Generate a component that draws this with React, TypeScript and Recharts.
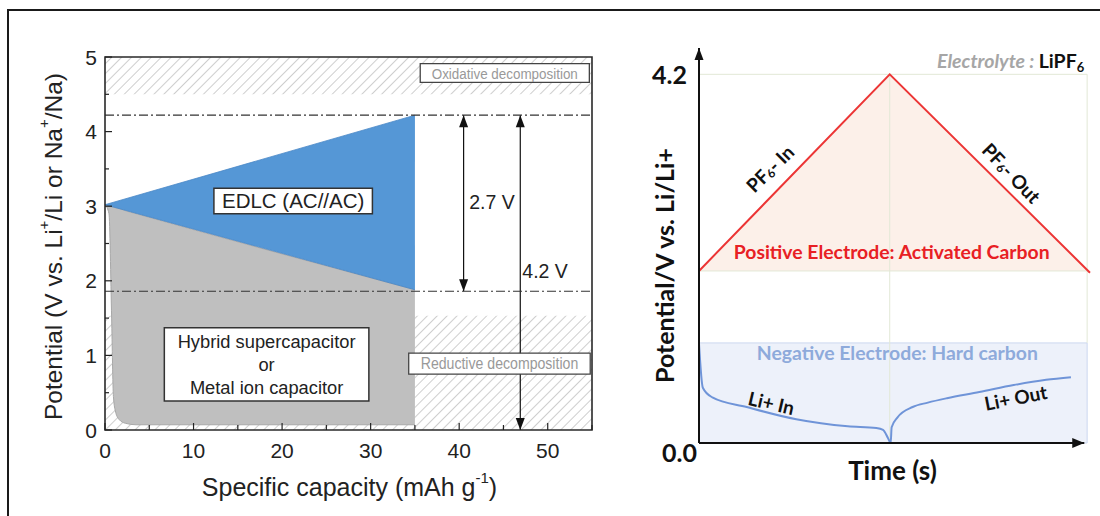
import {
  Area,
  ComposedChart,
  Line,
  ReferenceArea,
  ReferenceDot,
  ReferenceLine,
  XAxis,
  YAxis,
} from 'recharts'

const arial = '"Liberation Sans", Arial, sans-serif'
const calibri = 'Lato, "Open Sans", sans-serif'
const ink = '#222'

// ---- left panel: stability windows vs specific capacity ----
const capacityTicks = [0, 5, 10, 15, 20, 25, 30, 35, 40, 45, 50, 55]
const potentialTicks = [0, 0.5, 1, 1.5, 2, 2.5, 3, 3.5, 4, 4.5, 5]

const oxidativeZone = [
  { x: 0, v: 5 },
  { x: 55, v: 5 },
]
const reductiveZone = [
  { x: 0, v: 1.53 },
  { x: 55, v: 1.53 },
]

// [lower, upper] potential at each capacity
const edlcWindow = [
  { x: 0, v: [3.02, 3.02] },
  { x: 35, v: [1.88, 4.22] },
]
const hybridWindow = [
  { x: 0, v: [3.02, 3.02] },
  { x: 0.45, v: [2.9, 3.0] },
  { x: 0.75, v: [1.5, 2.99] },
  { x: 0.95, v: [0.45, 2.99] },
  { x: 1.2, v: [0.24, 2.98] },
  { x: 1.6, v: [0.14, 2.97] },
  { x: 2.3, v: [0.09, 2.94] },
  { x: 3.5, v: [0.07, 2.9] },
  { x: 35, v: [0.07, 1.88] },
]
const cutoffs = [4.22, 1.86]
const edlcSpan = [
  { x: 40.5, v: 1.86 },
  { x: 40.5, v: 4.22 },
]
const hybridSpan = [
  { x: 46.9, v: 0 },
  { x: 46.9, v: 4.22 },
]

// ---- right panel: electrode potentials vs time ----
const cellTicks = [0, 4.2]
const positiveCurve = [
  { t: 0, v: 1.96 },
  { t: 1, v: 4.2 },
  { t: 2.05, v: 1.94 },
]
const negT = [0, 0.02, 0.07, 0.25, 0.51, 0.78, 0.93, 0.965, 0.99, 1.005, 1.01, 1.04, 1.12, 1.2, 1.3, 1.47, 1.65, 1.82, 1.95]
const negV = [1.13, 0.63, 0.52, 0.41, 0.27, 0.19, 0.17, 0.15, 0.06, 0.0, 0.18, 0.29, 0.41, 0.46, 0.51, 0.58, 0.66, 0.72, 0.75]
const negativeCurve = negT.map((t, i) => ({ t, v: negV[i] }))
const potentialArrow = [
  { t: 0, v: 0 },
  { t: 0, v: 4.5 },
]
const timeArrow = [
  { t: 0, v: 0 },
  { t: 2.02, v: 0 },
]

function arrowDot(ends: 'both' | 'last', dir: 'v' | 'h') {
  return (p: any) => {
    const { cx, cy, index } = p
    if (ends === 'last' && index === 0) return <g key={index} />
    const s = index === 0 ? 1 : -1
    const pts =
      dir === 'h'
        ? `${cx},${cy} ${cx - 12},${cy - 5} ${cx - 12},${cy + 5}`
        : `${cx},${cy} ${cx - 4.5},${cy - s * 12} ${cx + 4.5},${cy - s * 12}`
    return <polygon key={index} points={pts} fill="#111" />
  }
}

function note(key: string, x: number, y: number, content: React.ReactNode) {
  return (
    <ReferenceDot
      key={key}
      x={x}
      y={y}
      r={0}
      ifOverflow="visible"
      zIndex={2000}
      shape={(p: any) => <g transform={`translate(${p.cx},${p.cy})`}>{content}</g>}
    />
  )
}

function PotentialTick(p: any) {
  const { x, y, payload } = p
  const major = Number.isInteger(payload.value)
  return (
    <g>
      <line x1={x} x2={x + (major ? 7 : 4)} y1={y} y2={y} stroke={ink} strokeWidth={1.2} />
      {major && (
        <text x={x - 8} y={y} textAnchor="end" dominantBaseline="central" fontSize={21} fill={ink}>
          {payload.value}
        </text>
      )}
    </g>
  )
}

function CapacityTick(p: any) {
  const { x, y, payload } = p
  const major = payload.value % 10 === 0
  return (
    <g>
      <line x1={x} x2={x} y1={y} y2={y - (major ? 7 : 5)} stroke={ink} strokeWidth={1.2} />
      {major && (
        <text x={x} y={y + 20} textAnchor="middle" dominantBaseline="central" fontSize={21} fill={ink}>
          {payload.value}
        </text>
      )}
    </g>
  )
}

function boxLabel(lines: string[], color: string, size: number, gap: number, fitTo?: number) {
  return (p: any) => {
    const vb = p.viewBox
    const cx = vb.x + vb.width / 2
    const cy = vb.y + vb.height / 2
    const first = cy - ((lines.length - 1) * gap) / 2
    return (
      <text textAnchor="middle" fontSize={size} fill={color} fontFamily={arial}>
        {lines.map((l, i) => (
          <tspan
            key={i}
            x={cx}
            y={first + i * gap}
            dominantBaseline="central"
            textLength={fitTo ? vb.width - fitTo : undefined}
            lengthAdjust={fitTo ? 'spacingAndGlyphs' : undefined}
          >
            {l}
          </tspan>
        ))}
      </text>
    )
  }
}

function WindowChart() {
  return (
    <ComposedChart
      width={620}
      height={516}
      margin={{ top: 57, right: 28, bottom: 56, left: 45 }}
      style={{ position: 'absolute', left: 0, top: 0 }}
    >
      <defs>
        <pattern id="hatch" width="7" height="7" patternUnits="userSpaceOnUse" patternTransform="rotate(45)">
          <line x1="0" y1="0" x2="0" y2="7" stroke="#c2c2c2" strokeWidth="1.6" />
        </pattern>
      </defs>
      <XAxis
        type="number"
        dataKey="x"
        domain={[0, 55]}
        ticks={capacityTicks}
        interval={0}
        height={30}
        axisLine={false}
        tickLine={false}
        tickSize={0}
        tickMargin={0}
        tick={CapacityTick}
        label={(p: any) => {
          const vb = p.viewBox
          return (
            <text
              x={vb.x + vb.width / 2 + 1}
              y={vb.y + 57}
              textAnchor="middle"
              dominantBaseline="central"
              fontSize={25}
              fill={ink}
              fontFamily={arial}
            >
              Specific capacity (mAh g
              <tspan dy={-10} fontSize={15}>
                -1
              </tspan>
              <tspan dy={10}>)</tspan>
            </text>
          )
        }}
      />
      <YAxis
        type="number"
        dataKey="v"
        domain={[0, 5]}
        ticks={potentialTicks}
        interval={0}
        width={60}
        axisLine={false}
        tickLine={false}
        tickSize={0}
        tickMargin={0}
        tick={PotentialTick}
        label={(p: any) => {
          const vb = p.viewBox
          const x = vb.x + 8
          const y = vb.y + vb.height / 2 + 3
          return (
            <text
              transform={`translate(${x},${y}) rotate(-90)`}
              textAnchor="middle"
              dominantBaseline="central"
              fontSize={24.5}
              fill={ink}
              fontFamily={arial}
            >
              Potential (V vs. Li
              <tspan dy={-10} fontSize={15}>
                +
              </tspan>
              <tspan dy={10}>/Li or Na</tspan>
              <tspan dy={-10} fontSize={15}>
                +
              </tspan>
              <tspan dy={10}>/Na)</tspan>
            </text>
          )
        }}
      />

      <Area
        data={oxidativeZone}
        dataKey="v"
        baseValue={4.5}
        type="linear"
        stroke="none"
        fill="url(#hatch)"
        fillOpacity={1}
        isAnimationActive={false}
      />
      <Area
        data={reductiveZone}
        dataKey="v"
        baseValue={0}
        type="linear"
        stroke="none"
        fill="url(#hatch)"
        fillOpacity={1}
        isAnimationActive={false}
      />
      <Area
        data={hybridWindow}
        dataKey="v"
        type="monotoneX"
        stroke="#a8a8a8"
        strokeWidth={1}
        fill="#bfbfbf"
        fillOpacity={1}
        isAnimationActive={false}
      />
      <Area
        data={edlcWindow}
        dataKey="v"
        type="linear"
        stroke="#4a88c6"
        strokeWidth={0.8}
        fill="#5597d6"
        fillOpacity={1}
        isAnimationActive={false}
      />

      {cutoffs.map((c) => (
        <ReferenceLine
          key={c}
          y={c}
          stroke="#333"
          strokeWidth={1.2}
          strokeDasharray="9 3 2 3"
          zIndex={450}
        />
      ))}

      <Line
        data={edlcSpan}
        dataKey="v"
        type="linear"
        stroke="#111"
        strokeWidth={1.2}
        dot={arrowDot('both', 'v')}
        activeDot={false}
        isAnimationActive={false}
      />
      <Line
        data={hybridSpan}
        dataKey="v"
        type="linear"
        stroke="#111"
        strokeWidth={1.2}
        dot={arrowDot('both', 'v')}
        activeDot={false}
        isAnimationActive={false}
      />

      <ReferenceArea
        x1={35.6}
        x2={54.7}
        y1={4.66}
        y2={4.91}
        fill="#fff"
        fillOpacity={1}
        stroke="#444"
        strokeWidth={1.3}
        zIndex={500}
        label={boxLabel(['Oxidative decomposition'], '#999', 15.5, 0, 23)}
      />
      <ReferenceArea
        x1={34.3}
        x2={54.8}
        y1={0.75}
        y2={1.03}
        fill="#fff"
        fillOpacity={1}
        stroke="#444"
        strokeWidth={1.3}
        zIndex={500}
        label={boxLabel(['Reductive decomposition'], '#999', 16, 0, 24)}
      />
      <ReferenceArea
        x1={12.3}
        x2={30.2}
        y1={2.9}
        y2={3.24}
        fill="#fff"
        fillOpacity={1}
        stroke="#333"
        strokeWidth={1.5}
        zIndex={500}
        label={boxLabel(['EDLC (AC//AC)'], ink, 20.5, 0)}
      />
      <ReferenceArea
        x1={6.7}
        x2={29.8}
        y1={0.39}
        y2={1.37}
        fill="#fff"
        fillOpacity={1}
        stroke="#333"
        strokeWidth={1.5}
        zIndex={500}
        label={boxLabel(['Hybrid supercapacitor', 'or', 'Metal ion capacitor'], ink, 18.3, 23)}
      />

      {note(
        'v27',
        43.7,
        3.06,
        <text textAnchor="middle" dominantBaseline="central" fontSize={19.5} fill={ink} fontFamily={arial}>
          2.7 V
        </text>,
      )}
      {note(
        'v42',
        49.7,
        2.13,
        <text textAnchor="middle" dominantBaseline="central" fontSize={19.5} fill={ink} fontFamily={arial}>
          4.2 V
        </text>,
      )}

      <ReferenceArea
        x1={0}
        x2={55}
        y1={0}
        y2={5}
        fill="none"
        stroke="#2a2a2a"
        strokeWidth={1.6}
        zIndex={900}
      />
    </ComposedChart>
  )
}

function CellTick(p: any) {
  const { x, y, payload } = p
  const top = payload.value > 0
  return (
    <text
      x={top ? x - 12 : x - 2}
      y={top ? y : y + 19}
      textAnchor="end"
      dominantBaseline={top ? 'central' : 'alphabetic'}
      fontSize={25}
      fontWeight={700}
      fill="#111"
      fontFamily={calibri}
    >
      {payload.value.toFixed(1)}
    </text>
  )
}

const grid = '#e2e8d6'

function ElectrodeChart() {
  return (
    <ComposedChart
      width={500}
      height={516}
      margin={{ top: 48, right: 10, bottom: 33, left: 59 }}
      style={{ position: 'absolute', left: 600, top: 0 }}
    >
      <XAxis
        type="number"
        dataKey="t"
        domain={[0, 2.05]}
        height={40}
        axisLine={false}
        tickLine={false}
        tick={false}
        label={(p: any) => {
          const vb = p.viewBox
          return (
            <text
              x={vb.x + vb.width / 2 - 2}
              y={vb.y + 27}
              textAnchor="middle"
              dominantBaseline="central"
              fontSize={26}
              fontWeight={700}
              fill="#111"
              fontFamily={calibri}
            >
              Time (s)
            </text>
          )
        }}
      />
      <YAxis
        type="number"
        dataKey="v"
        domain={[0, 4.5]}
        ticks={cellTicks}
        interval={0}
        width={40}
        axisLine={false}
        tickLine={false}
        tickSize={0}
        tickMargin={0}
        tick={CellTick}
        label={(p: any) => {
          const vb = p.viewBox
          const x = vb.x + vb.width - 35
          const y = vb.y + vb.height / 2 + 20
          return (
            <text
              transform={`translate(${x},${y}) rotate(-90)`}
              textAnchor="middle"
              dominantBaseline="central"
              fontSize={25}
              fontWeight={700}
              fill="#111"
              fontFamily={calibri}
            >
              Potential/V vs. Li/Li+
            </text>
          )
        }}
      />

      <ReferenceArea
        x1={0}
        x2={2.035}
        y1={0}
        y2={1.14}
        fill="#edf1fa"
        fillOpacity={1}
        stroke="#cbd7ef"
        strokeWidth={1}
      />
      <ReferenceLine segment={[{ x: 0, y: 4.2 }, { x: 2.035, y: 4.2 }]} stroke={grid} strokeWidth={1} />
      <ReferenceLine segment={[{ x: 0, y: 1.96 }, { x: 2.035, y: 1.96 }]} stroke={grid} strokeWidth={1} />
      <ReferenceLine segment={[{ x: 1, y: 0 }, { x: 1, y: 4.2 }]} stroke={grid} strokeWidth={1} />
      <ReferenceLine segment={[{ x: 2.035, y: 1.14 }, { x: 2.035, y: 4.2 }]} stroke={grid} strokeWidth={1} />

      <Area
        data={positiveCurve}
        dataKey="v"
        baseValue={1.96}
        type="linear"
        stroke="none"
        fill="#fcf0e9"
        fillOpacity={1}
        isAnimationActive={false}
      />
      <Line
        data={positiveCurve}
        dataKey="v"
        type="linear"
        stroke="#ec3535"
        strokeWidth={2}
        dot={false}
        activeDot={false}
        isAnimationActive={false}
      />
      <Line
        data={negativeCurve}
        dataKey="v"
        type="monotoneX"
        stroke="#6f94d8"
        strokeWidth={2}
        dot={false}
        activeDot={false}
        isAnimationActive={false}
      />
      <Line
        data={potentialArrow}
        dataKey="v"
        type="linear"
        stroke="#111"
        strokeWidth={2}
        dot={arrowDot('last', 'v')}
        activeDot={false}
        isAnimationActive={false}
      />
      <Line
        data={timeArrow}
        dataKey="v"
        type="linear"
        stroke="#111"
        strokeWidth={2}
        dot={arrowDot('last', 'h')}
        activeDot={false}
        isAnimationActive={false}
      />

      {note(
        'electrolyte',
        2.02,
        4.27,
        <text textAnchor="end" fontSize={19.5} fontWeight={700} fontFamily={calibri}>
          <tspan fill="#a6a6a6" fontStyle="italic">
            Electrolyte :{' '}
          </tspan>
          <tspan fill="#111">LiPF</tspan>
          <tspan fill="#111" dy={4} fontSize={13}>
            6
          </tspan>
        </text>,
      )}
      {note(
        'pfin',
        0.37,
        3.13,
        <text
          transform="rotate(-45)"
          textAnchor="middle"
          dominantBaseline="central"
          fontSize={19}
          fontWeight={700}
          fill="#111"
          fontFamily={calibri}
        >
          PF
          <tspan dy={4} fontSize={12}>
            6
          </tspan>
          <tspan dy={-4}>- In</tspan>
        </text>,
      )}
      {note(
        'pfout',
        1.64,
        3.08,
        <text
          transform="rotate(46)"
          textAnchor="middle"
          dominantBaseline="central"
          fontSize={19}
          fontWeight={700}
          fill="#111"
          fontFamily={calibri}
        >
          PF
          <tspan dy={4} fontSize={12}>
            6
          </tspan>
          <tspan dy={-4}>- Out</tspan>
        </text>,
      )}
      {note(
        'pos',
        1.01,
        2.18,
        <text
          textAnchor="middle"
          dominantBaseline="central"
          fontSize={19.4}
          fontWeight={700}
          fill="#e82024"
          fontFamily={calibri}
        >
          Positive Electrode: Activated Carbon
        </text>,
      )}
      {note(
        'neg',
        1.04,
        1.03,
        <text
          textAnchor="middle"
          dominantBaseline="central"
          fontSize={19.4}
          fontWeight={700}
          fill="#8eaadb"
          fontFamily={calibri}
        >
          Negative Electrode: Hard carbon
        </text>,
      )}
      {note(
        'liin',
        0.38,
        0.46,
        <text
          transform="rotate(13)"
          textAnchor="middle"
          dominantBaseline="central"
          fontSize={19}
          fontWeight={700}
          fill="#111"
          fontFamily={calibri}
        >
          Li+ In
        </text>,
      )}
      {note(
        'liout',
        1.66,
        0.52,
        <text
          transform="rotate(-11)"
          textAnchor="middle"
          dominantBaseline="central"
          fontSize={19}
          fontWeight={700}
          fill="#111"
          fontFamily={calibri}
        >
          Li+ Out
        </text>,
      )}
    </ComposedChart>
  )
}

export default function App() {
  return (
    <div
      style={{
        position: 'fixed',
        left: 0,
        top: 0,
        width: 1100,
        height: 516,
        background: '#fff',
        overflow: 'hidden',
        fontFamily: arial,
      }}
    >
      <div
        style={{
          position: 'absolute',
          left: 7,
          top: 9,
          width: 1093,
          height: 507,
          borderTop: '2px solid #1a1a1a',
          borderLeft: '2px solid #1a1a1a',
        }}
      />
      <WindowChart />
      <ElectrodeChart />
    </div>
  )
}
